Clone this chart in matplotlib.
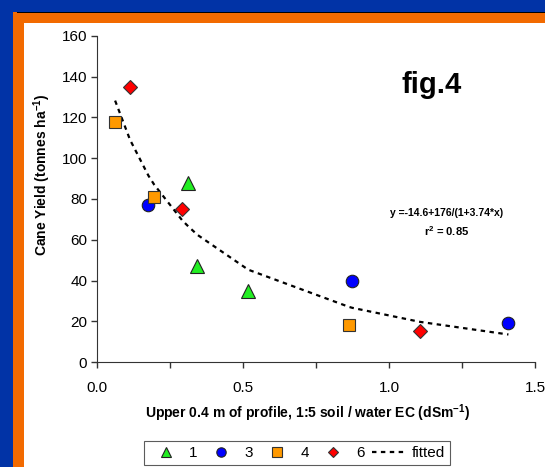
import matplotlib.pyplot as plt
from matplotlib.patches import Rectangle

plt.rcParams['font.family'] = ['Liberation Sans', 'DejaVu Sans']
plt.rcParams['mathtext.fontset'] = 'custom'
plt.rcParams['mathtext.rm'] = 'Liberation Sans'
plt.rcParams['mathtext.bf'] = 'Liberation Sans:bold'

# ---- data ----
x_1 = [0.313, 0.344, 0.518]
y_1 = [88, 47, 35]
x_3 = [0.176, 0.874, 1.409]
y_3 = [77, 40, 19]
x_4 = [0.062, 0.196, 0.864]
y_4 = [118, 81, 18]
x_6 = [0.113, 0.292, 1.106]
y_6 = [135, 75, 15]

# fitted curve y = -14.6 + 176/(1 + 3.74x) at the sorted data x values
fit_x = [0.062, 0.113, 0.176, 0.196, 0.292, 0.313, 0.344, 0.518, 0.864, 0.874, 1.106, 1.409]
fit_y = [128.3, 109.1, 91.5, 87.0, 69.5, 66.5, 62.4, 45.3, 27.0, 26.6, 19.7, 13.5]

x_ticks = [0, 0.25, 0.5, 0.75, 1.0, 1.25, 1.5]
x_ticklabels = ['0.0', '', '0.5', '', '1.0', '', '1.5']
y_ticks = [0, 20, 40, 60, 80, 100, 120, 140, 160]

W, H = 545, 467
fig = plt.figure(figsize=(W / 100, H / 100), dpi=100)
fig.patch.set_facecolor('#0133a6')

# slide frame: orange border, black top edge, white panel
fig.add_artist(Rectangle((13 / W, 0), 1, 1 - 12 / H, transform=fig.transFigure,
                         facecolor='#f26a00', edgecolor='none', zorder=0))
fig.add_artist(Rectangle((17 / W, 1 - 13 / H), 1, 1.2 / H, transform=fig.transFigure,
                         facecolor='black', edgecolor='none', zorder=0))
fig.add_artist(Rectangle((24 / W, 0), 1, 1 - 23 / H, transform=fig.transFigure,
                         facecolor='white', edgecolor='none', zorder=0))

ax = fig.add_axes([97 / W, 1 - 362 / H, (535 - 97) / W, (362 - 36) / H])
ax.set_facecolor('none')

ax.plot(x_1, y_1, ls='none', marker='^', ms=10, mfc='#22ee22', mec='#222222', mew=0.8, label='1')
ax.plot(x_3, y_3, ls='none', marker='o', ms=9, mfc='#0000ff', mec='#222222', mew=0.8, label='3')
ax.plot(x_4, y_4, ls='none', marker='s', ms=9, mfc='#ff9900', mec='#333333', mew=0.8, label='4')
ax.plot(x_6, y_6, ls='none', marker='D', ms=7, mfc='#ff0000', mec='#333333', mew=0.8, label='6')
ax.plot(fit_x, fit_y, color='black', lw=1.6, dashes=(2, 2), label='fitted', zorder=1)

ax.set_xlim(0, 1.5)
ax.set_ylim(0, 160)
ax.set_xticks(x_ticks)
ax.set_xticklabels(x_ticklabels)
ax.set_yticks(y_ticks)
ax.tick_params(axis='both', labelsize=11, length=4, width=1, color='#333333')
ax.tick_params(axis='x', pad=10)
ax.tick_params(axis='y', pad=3)
for s in ['top', 'right']:
    ax.spines[s].set_visible(False)
for s in ['left', 'bottom']:
    ax.spines[s].set_color('#333333')

fig.text(42 / W, 1 - 175 / H, 'Cane Yield (tonnes ha$^{\\mathbf{-1}}$)', rotation=90,
         ha='center', va='center', fontsize=10, fontweight='bold')
fig.text(308 / W, 1 - 413 / H, 'Upper 0.4 m of profile, 1:5 soil / water EC (dSm$^{\\mathbf{-1}}$)',
         ha='center', va='center', fontsize=10, fontweight='bold')

fig.text(432 / W, 1 - 85 / H, 'fig.4', ha='center', va='center', fontsize=21, fontweight='bold')
fig.text(447 / W, 1 - 213 / H, 'y =-14.6+176/(1+3.74*x)', ha='center', va='center',
         fontsize=7.5, fontweight='bold')
fig.text(447 / W, 1 - 231 / H, 'r$^{\\mathbf{2}}$ = 0.85', ha='center', va='center',
         fontsize=8, fontweight='bold')

leg = fig.legend(loc='center', bbox_to_anchor=(297 / W, 1 - 453 / H), ncol=5, fontsize=11,
                 frameon=True, fancybox=False, edgecolor='#333333', handlelength=2.2,
                 handletextpad=0.4, columnspacing=0.5, markerscale=0.75, borderpad=0.3)
leg.get_frame().set_linewidth(0.8)

fig.savefig('out.png', dpi=100, facecolor=fig.get_facecolor())
